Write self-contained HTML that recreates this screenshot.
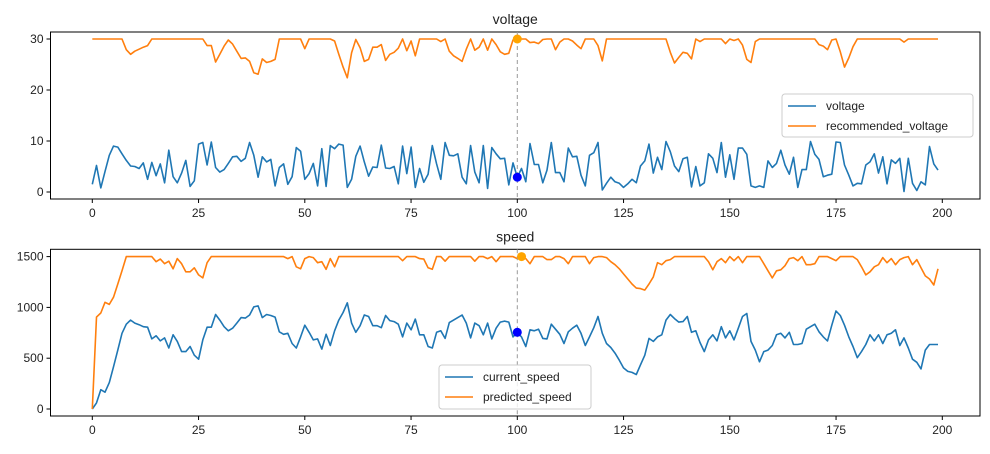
<!DOCTYPE html>
<html><head><meta charset="utf-8"><style>
html,body{margin:0;padding:0;background:#fff;}
svg text{font-family:"Liberation Sans","DejaVu Sans",sans-serif;fill:#222;}
</style></head><body>
<svg id="s" width="990" height="449" xmlns="http://www.w3.org/2000/svg"></svg>
<script>
function fill(o,n,def){var a=[];for(var i=0;i<n;i++)a.push(o[i]!==undefined?o[i]:def);return a;}
var volt=[1.5,5.2,0.8,4,7.2,9,8.8,7.5,6.2,5.1,5,4.6,5.7,2.5,5.8,3.2,5.5,1.8,8.2,3,1.8,3.7,6.2,1.1,2.2,9.4,9.7,5.3,9.8,4.8,3.9,4.4,5.6,6.9,7,6,6.6,9.7,7.2,2.9,6.9,5.9,6.4,1.2,4.8,5.5,1.5,3,8.7,8,2.5,3.6,5.6,1.2,8.5,1.1,9.1,8.5,9.4,9.2,0.9,2.5,7,9,5.9,3.1,4.9,4.8,9.2,4.7,4.6,5,1.6,9,3.6,8.8,0.9,4.6,1.9,3.5,9.1,5.5,2.5,9.7,7.2,7.1,7.5,2.9,1.6,9.1,3.9,1.8,9.1,0.7,8.7,7.5,6.5,6.6,1.4,5.7,2.9,4.6,2,9.5,5.4,5.4,1.8,4.3,9.7,3.8,3.8,2,8.6,6.9,7,3.3,1.2,7.2,7.7,9.7,0.4,1.7,2.9,2,1.7,0.9,1.6,2.5,1.8,5.1,6.1,9.4,3.7,6.8,4.4,9.9,7.9,5.1,4,6.5,6.8,1,5,1.2,1.8,7.5,6.6,3.8,9.7,2.9,7.3,2.5,8.6,8.6,7.4,1.2,0.9,1.2,0.9,6.1,4.8,5.6,8.2,5.3,3.5,6.8,0.9,4.4,4.4,9.9,7.4,6.4,3,3.3,3.5,9.8,9.7,5.3,3.3,1.2,1.7,1.6,5.3,5.9,7.5,3.7,6.9,1.6,6.3,5.6,6.6,0.1,6.6,1.7,0.3,2,1.4,8.9,5.5,4.3];
var rv=fill({8:27.9,9:27,10:27.6,11:28,12:28.4,13:28.7,27:28.7,28:28.7,29:25.5,30:27,31:28.6,32:29.8,33:29,34:27.6,35:26.2,36:26.3,37:25.6,38:23.4,39:23.1,40:26.1,41:25.4,42:25.6,43:26,50:28.1,57:29.6,58:27,59:24.5,60:22.4,61:27.3,62:29.9,63:28.3,64:25.6,65:26,66:28.4,67:28.4,68:28.9,69:25.8,70:27,71:27.4,72:28.2,74:27.7,75:29.6,76:26.7,82:29.5,84:27.6,85:26.7,86:26.2,87:25.6,88:28,90:27.8,91:28.4,93:27.8,95:28.9,96:27.5,97:27,98:27.2,99:29.8,103:29.3,104:29.4,105:29.1,106:29.9,109:27.9,110:29.4,113:29.6,114:28.8,115:28.1,119:28.7,120:25.7,136:27.4,137:25.3,138:26.4,139:27.4,140:27.2,141:26.1,143:29.5,149:29.1,151:29.7,153:28.8,154:26,155:25.4,156:29.5,171:28.9,172:28.6,173:27.9,174:29.8,176:27.5,177:24.5,178:26.3,179:28.5,191:29.4},200,30);
var cs=[0,60,190,165,260,415,580,745,835,875,845,830,810,805,690,720,670,700,600,730,665,565,565,615,530,490,680,805,805,930,875,810,770,795,845,900,895,925,1005,1015,900,930,920,905,760,735,745,645,600,710,825,755,680,690,590,735,625,770,875,950,1045,845,755,820,925,910,820,820,800,920,870,860,835,710,845,780,885,730,730,615,600,755,770,695,850,875,900,925,845,700,845,820,730,845,690,795,855,865,855,710,755,710,615,780,770,785,695,690,835,785,735,645,760,795,825,745,625,710,800,910,745,645,605,550,480,405,370,360,340,435,530,695,665,710,730,875,930,890,855,860,910,755,770,655,565,680,730,670,810,700,770,680,795,910,940,665,580,465,565,580,625,730,745,700,755,635,635,645,785,810,835,760,710,670,825,965,920,825,710,615,505,565,635,730,670,730,645,730,745,780,625,700,600,490,460,395,580,635];
while(cs.length<200)cs.push(cs[cs.length-1]);
var ps=fill({0:0,1:905,2:945,3:1050,4:1030,5:1100,6:1230,7:1360,15:1450,16:1475,17:1430,18:1455,19:1380,20:1480,21:1430,22:1350,23:1350,24:1390,25:1320,26:1290,27:1440,46:1480,48:1400,49:1380,50:1480,52:1490,53:1440,54:1450,55:1375,56:1480,57:1400,73:1460,77:1480,78:1475,79:1390,80:1375,83:1455,90:1455,93:1480,95:1450,100:1480,102:1480,103:1430,107:1470,108:1470,111:1480,112:1430,117:1430,118:1490,121:1490,122:1450,123:1420,124:1380,125:1330,126:1280,127:1230,128:1190,129:1185,130:1170,131:1230,132:1300,133:1440,134:1420,135:1460,136:1470,145:1450,146:1370,147:1450,148:1480,149:1440,151:1460,153:1440,158:1430,159:1360,160:1290,161:1360,162:1370,163:1410,164:1480,165:1490,166:1460,168:1420,169:1420,170:1430,174:1480,175:1460,180:1470,181:1400,182:1320,183:1350,184:1400,185:1420,186:1490,187:1440,188:1480,189:1420,190:1470,191:1490,193:1420,194:1470,195:1390,196:1310,197:1280,198:1220,199:1380},200,1500);

var x0=92.3,dx=4.25,L=50.5,R=980;
function X(i){return x0+dx*i;}
var h='';
function axes(top,bot,yf,yt,yticks,series,title,leg){
  h+='<rect x="'+L+'" y="'+top+'" width="'+(R-L)+'" height="'+(bot-top)+'" fill="none" stroke="#000" stroke-width="1"/>';
  h+='<text x="'+((L+R)/2)+'" y="'+(top-8)+'" font-size="14" text-anchor="middle">'+title+'</text>';
  for(var t=0;t<=200;t+=25){var xx=X(t);h+='<line x1="'+xx+'" y1="'+bot+'" x2="'+xx+'" y2="'+(bot+4)+'" stroke="#000"/><text x="'+xx+'" y="'+(bot+18)+'" font-size="12" text-anchor="middle">'+t+'</text>';}
  yticks.forEach(function(v){var yy=yf(v);h+='<line x1="'+(L-4)+'" y1="'+yy+'" x2="'+L+'" y2="'+yy+'" stroke="#000"/><text x="'+(L-7)+'" y="'+(yy+4)+'" font-size="12" text-anchor="end">'+v+'</text>';});
  series.forEach(function(s){var p=s[0].map(function(v,i){return X(i).toFixed(1)+','+yf(v).toFixed(1);}).join(' ');h+='<polyline points="'+p+'" fill="none" stroke="'+s[1]+'" stroke-width="1.6" stroke-linejoin="round"/>';});
  h+='<line x1="'+X(100)+'" y1="'+top+'" x2="'+X(100)+'" y2="'+bot+'" stroke="#999" stroke-dasharray="4,3" stroke-width="1"/>';
  var lx=leg[0],ly=leg[1],lw=leg[2],lh=leg[3];
  h+='<rect x="'+lx+'" y="'+ly+'" width="'+lw+'" height="'+lh+'" rx="3" fill="#fff" fill-opacity="0.8" stroke="#ccc"/>';
  leg[4].forEach(function(e,k){var yy=ly+12+k*20;h+='<line x1="'+(lx+6)+'" y1="'+yy+'" x2="'+(lx+34)+'" y2="'+yy+'" stroke="'+e[1]+'" stroke-width="1.6"/><text x="'+(lx+44)+'" y="'+(yy+4)+'" font-size="12">'+e[0]+'</text>';});
}
var yv=function(v){return 192-v*5.1;};
axes(32,199,yv,null,[0,10,20,30],[[volt,'#1f77b4'],[rv,'#ff7f0e']],'voltage',[782,94,191,43,[['voltage','#1f77b4'],['recommended_voltage','#ff7f0e']]]);
var ys=function(v){return 409-v*0.1016;};
axes(249.3,416,ys,null,[0,500,1000,1500],[[cs,'#1f77b4'],[ps,'#ff7f0e']],'speed',[439,365,152,44,[['current_speed','#1f77b4'],['predicted_speed','#ff7f0e']]]);
h+='<circle cx="'+X(100)+'" cy="'+yv(2.9)+'" r="4.5" fill="#0000ff"/>';
h+='<circle cx="'+X(100)+'" cy="'+yv(30)+'" r="4.5" fill="#ffa500"/>';
h+='<circle cx="'+X(100)+'" cy="'+ys(755)+'" r="4.5" fill="#0000ff"/>';
h+='<circle cx="'+X(101)+'" cy="'+ys(1500)+'" r="4.5" fill="#ffa500"/>';
document.getElementById('s').innerHTML=h;
</script>
</body></html>
